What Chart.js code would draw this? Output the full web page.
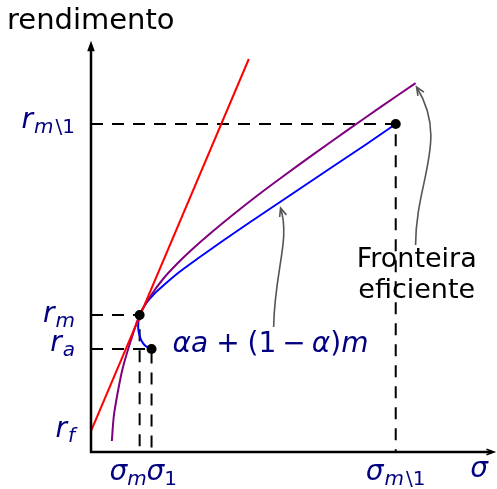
<!DOCTYPE html>
<html>
<head>
<meta charset="utf-8">
<script src="https://cdn.jsdelivr.net/npm/chart.js@4.4.0/dist/chart.umd.min.js"></script>
<style>
  html, body { margin: 0; padding: 0; background: #fff; }
  #wrap { width: 497px; height: 489px; }
</style>
</head>
<body>
<div id="wrap"><canvas id="chart"></canvas></div>
<script>
// portfolios: m, 1 (asset a), m\1
const portfolioSigma = [0.49, 0.61, 3.07];
const portfolioReturn = [1.37, 1.03, 3.28];

// capital market line from the risk-free rate
const riskFree = 0.21;
const cmlSigma = [0, 1.59];
const cmlReturn = [riskFree, 3.93];

// efficient frontier
const frontierSigma = [0.21, 0.23, 0.27, 0.32, 0.40, 0.49, 0.60, 0.73, 0.87, 1.02, 1.21, 1.43, 1.67, 1.94, 2.24, 2.57, 2.92, 3.27];
const frontierReturn = [0.11, 0.36, 0.60, 0.84, 1.11, 1.37, 1.56, 1.735, 1.885, 2.027, 2.192, 2.372, 2.56, 2.76, 2.976, 3.209, 3.451, 3.689];

// combinations alpha*a + (1-alpha)*m
const comboSigma = [0.61, 0.55, 0.51, 0.485, 0.475, 0.48, 0.49, 0.55, 0.64, 0.74, 0.89, 1.09, 1.34, 1.59, 1.86, 2.16, 2.46, 2.77, 3.07];
const comboReturn = [1.03, 1.06, 1.11, 1.18, 1.25, 1.32, 1.37, 1.48, 1.585, 1.675, 1.80, 1.945, 2.12, 2.29, 2.47, 2.67, 2.87, 3.075, 3.28];

// axis tick labels, as [text, style, gap after] runs (i = italic, s = subscript)
const yTickValues = [portfolioReturn[2], portfolioReturn[0], portfolioReturn[1], riskFree];
const yTickLabels = [
  [['r', 'i', 1], ['m', 'is', 2], ['\\1', 's']],
  [['r', 'i', 1], ['m', 'is']],
  [['r', 'i', 1], ['a', 'is']],
  [['r', 'i', 1], ['f', 'is']]
];
const xTickValues = portfolioSigma;
const xTickLabels = [
  [['σ', 'i'], ['m', 'is']],
  [['σ', 'i'], ['1', 's']],
  [['σ', 'i', 1], ['m', 'is', 2], ['\\1', 's']]
];

const NAVY = '#000080';
const FONT = '"DejaVu Sans"';
const BASE = 28;
const SUB = 20;

const xy = (xs, ys) => xs.map((x, i) => ({ x: x, y: ys[i] }));

function guide(i) {
  // dashed drop lines from a portfolio to both axes
  return [
    { x: 0, y: portfolioReturn[i] },
    { x: portfolioSigma[i], y: portfolioReturn[i] },
    { x: portfolioSigma[i], y: 0 }
  ];
}

function mathFont(style) {
  const size = style.includes('s') ? SUB : BASE;
  return (style.includes('i') ? 'italic ' : '') + size + 'px ' + FONT;
}

function drawMath(ctx, runs, x, y, align, color) {
  let w = 0;
  runs.forEach(r => {
    ctx.font = mathFont(r[1]);
    w += ctx.measureText(r[0]).width + (r[2] || 0);
  });
  let cx = align === 'right' ? x - w : align === 'center' ? x - w / 2 : x;
  ctx.fillStyle = color;
  ctx.textAlign = 'left';
  ctx.textBaseline = 'alphabetic';
  runs.forEach(r => {
    ctx.font = mathFont(r[1]);
    const dy = r[1].includes('s') ? 5 : 0;
    ctx.fillText(r[0], cx, y + dy);
    cx += ctx.measureText(r[0]).width + (r[2] || 0);
  });
}

function arrowHead(ctx, tx, ty, fx, fy, len, half, filled) {
  const a = Math.atan2(ty - fy, tx - fx);
  const p1 = [tx - len * Math.cos(a - half), ty - len * Math.sin(a - half)];
  const p2 = [tx - len * Math.cos(a + half), ty - len * Math.sin(a + half)];
  ctx.beginPath();
  ctx.moveTo(p1[0], p1[1]);
  ctx.lineTo(tx, ty);
  ctx.lineTo(p2[0], p2[1]);
  if (filled) { ctx.closePath(); ctx.fill(); }
  ctx.stroke();
}

const decor = {
  id: 'decor',
  afterDatasetsDraw(chart) {
    const ctx = chart.ctx;
    const xs = chart.scales.x, ys = chart.scales.y;
    const area = chart.chartArea;
    const px = (x, y) => [xs.getPixelForValue(x), ys.getPixelForValue(y)];
    ctx.save();

    // axes with arrow tips
    ctx.strokeStyle = '#000';
    ctx.fillStyle = '#000';
    ctx.lineWidth = 2.5;
    ctx.beginPath();
    ctx.moveTo(area.left, area.top);
    ctx.lineTo(area.left, area.bottom);
    ctx.lineTo(area.right, area.bottom);
    ctx.stroke();
    ctx.lineWidth = 1.5;
    arrowHead(ctx, area.left, area.top - 2, area.left, area.bottom, 8, 0.35, true);
    arrowHead(ctx, area.right + 2, area.bottom, area.left, area.bottom, 8, 0.35, false);

    // tick labels
    const yOffsets = [4, 7, 2, 6];
    yTickLabels.forEach((lab, i) => {
      drawMath(ctx, lab, area.left - 16, ys.getPixelForValue(yTickValues[i]) + yOffsets[i], 'right', NAVY);
    });
    const xb = area.bottom + 28;
    drawMath(ctx, xTickLabels[0], xs.getPixelForValue(xTickValues[0]) + 7, xb, 'right', NAVY);
    drawMath(ctx, xTickLabels[1], xs.getPixelForValue(xTickValues[1]) - 5, xb, 'left', NAVY);
    drawMath(ctx, xTickLabels[2], xs.getPixelForValue(xTickValues[2]), xb, 'center', NAVY);

    // axis titles
    drawMath(ctx, [['σ', 'i']], area.right - 13, area.bottom + 25, 'center', NAVY);
    ctx.font = '29px ' + FONT;
    ctx.fillStyle = '#000';
    ctx.fillText('rendimento', 7, 29);

    // annotations
    const pa = px(portfolioSigma[1], portfolioReturn[1]);
    drawMath(ctx, [['α', 'i'], ['a', 'i', 8], ['+', '', 8], ['(1', '', 6], ['−', '', 6], ['α', 'i'], [')', ''], ['m', 'i']],
      pa[0] + 21, pa[1] + 3, 'left', NAVY);
    const pf = px(portfolioSigma[2], portfolioReturn[2]);
    ctx.font = '27px ' + FONT;
    ctx.fillStyle = '#000';
    ctx.textAlign = 'center';
    ctx.fillText('Fronteira', pf[0] + 21, 267);
    ctx.fillText('eficiente', pf[0] + 21, 298);

    // curved pointers to the two curves
    ctx.strokeStyle = '#555';
    ctx.fillStyle = '#555';
    ctx.lineWidth = 1.6;
    const pointers = [
      [[1.84, 1.25], [1.85, 1.82], [2.01, 2.12], [1.91, 2.44]],
      [[3.27, 2.07], [3.27, 2.72], [3.61, 3.12], [3.28, 3.65]]
    ];
    pointers.forEach(p => {
      const q = p.map(v => px(v[0], v[1]));
      ctx.beginPath();
      ctx.moveTo(q[0][0], q[0][1]);
      ctx.bezierCurveTo(q[1][0], q[1][1], q[2][0], q[2][1], q[3][0], q[3][1]);
      ctx.stroke();
      arrowHead(ctx, q[3][0], q[3][1], q[2][0], q[2][1], 9, 0.4, false);
    });
    ctx.restore();
  }
};

const dashed = { borderColor: '#000', borderWidth: 2, borderDash: [12, 9], pointRadius: 0, fill: false, order: 5 };

new Chart(document.getElementById('chart'), {
  type: 'scatter',
  data: {
    datasets: [
      { data: xy(portfolioSigma, portfolioReturn), pointRadius: 5, pointBackgroundColor: '#000', pointBorderWidth: 0, showLine: false, order: 0 },
      { data: xy(cmlSigma, cmlReturn), showLine: true, borderColor: '#ff0000', borderWidth: 2, pointRadius: 0, order: 1 },
      { data: xy(frontierSigma, frontierReturn), showLine: true, borderColor: '#800080', borderWidth: 2, pointRadius: 0, tension: 0.3, order: 2 },
      { data: xy(comboSigma, comboReturn), showLine: true, borderColor: '#0000ff', borderWidth: 2, pointRadius: 0, tension: 0.3, order: 3 },
      Object.assign({ data: guide(0), showLine: true }, dashed),
      Object.assign({ data: guide(1), showLine: true }, dashed),
      Object.assign({ data: guide(2), showLine: true }, dashed)
    ]
  },
  options: {
    responsive: true,
    maintainAspectRatio: false,
    animation: false,
    layout: { padding: { left: 91, right: 2, top: 45, bottom: 37 } },
    plugins: { legend: { display: false }, tooltip: { enabled: false } },
    scales: {
      x: { type: 'linear', min: 0, max: 4.04, display: false },
      y: { type: 'linear', min: 0, max: 4.07, display: false }
    }
  },
  plugins: [decor]
});
</script>
</body>
</html>
